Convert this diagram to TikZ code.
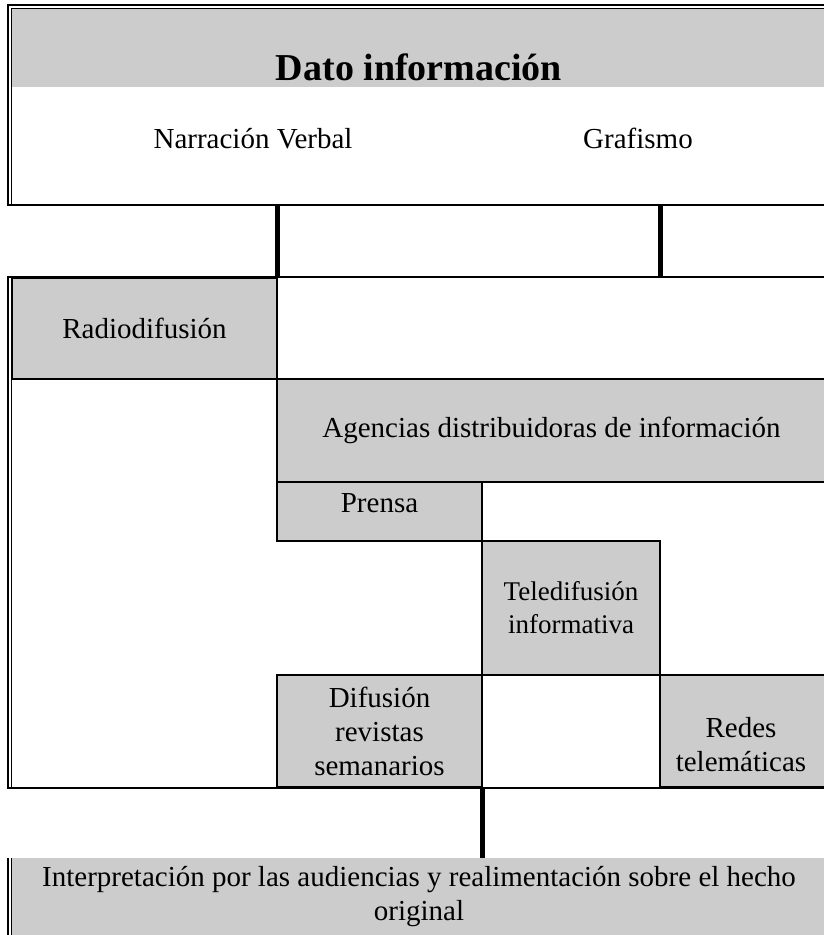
\documentclass[tikz,border=0pt]{standalone}
\usepackage{fontspec}
\setmainfont{Liberation Serif}
\usetikzlibrary{positioning}
\definecolor{cellgray}{HTML}{CCCCCC}

\begin{document}
\begin{tikzpicture}[x=1pt,y=-1pt]
\tikzstyle{cell}=[rectangle, draw, line width=1.6pt, fill=cellgray, anchor=north west, inner sep=0pt, outer sep=0pt, align=center, font=\fontsize{29}{34}\selectfont]
\tikzstyle{band}=[rectangle, fill=cellgray, anchor=north west, inner sep=0pt, outer sep=0pt, align=center]
\tikzstyle{txt}=[inner sep=0pt, align=center, font=\fontsize{29}{34}\selectfont]
\tikzstyle{outer-rule}=[line width=2pt]
\tikzstyle{inner-rule}=[line width=1pt]
\tikzstyle{link}=[line width=5pt]

\useasboundingbox (0,0) rectangle (824,935);

% top box
\node[style=band, minimum width=814, minimum height=78, text height=71pt, text depth=7pt, font=\bfseries\fontsize{38}{43}\selectfont] (dato) at (12,9) {Dato información};
\node[style=txt, anchor=base] (narr) at (253,148) {Narración Verbal};
\node[style=txt, anchor=base] (graf) at (638,148) {Grafismo};
\draw[style=outer-rule] (8,206) -- (8,5) -- (826,5);
\draw[style=inner-rule] (11.5,205) -- (11.5,8.5) -- (826,8.5);
\draw[style=outer-rule] (7,205) -- (826,205);
\coordinate (topbase) at (0,206);

% media
\node[style=cell, minimum width=265, minimum height=101] (radio) at (12,278) {Radiodifusión};
\node[style=cell, minimum width=549, minimum height=103] (agencias) at (277,379) {Agencias distribuidoras de información};
\node[style=cell, minimum width=205, minimum height=59, text height=30pt, text depth=29pt] (prensa) at (277,482) {Prensa};
\node[style=cell, minimum width=178, minimum height=134, font=\fontsize{27}{33}\selectfont] (tele) at (482,541) {Teledifusión\\informativa};
\node[style=cell, minimum width=205, minimum height=112] (difusion) at (277,675) {Difusión\\revistas\\semanarios};
\node[style=cell, minimum width=166, minimum height=112] (redes) at (660,675) {};
\node[style=txt, above=15pt of redes.south, xshift=-2pt] (redes-t) {Redes\\telemáticas};
\draw[style=outer-rule] (7,277) -- (826,277);
\draw[style=outer-rule] (8,276) -- (8,789);
\draw[style=inner-rule] (11.5,277) -- (11.5,788);
\draw[style=outer-rule] (7,788) -- (826,788);

% audiencias
\node[style=band, minimum width=814, minimum height=78, font=\fontsize{29}{34}\selectfont] (interp) at (12,858) {Interpretación por las audiencias y realimentación sobre el hecho\\original};
\draw[style=outer-rule] (8,858) -- (8,936);
\draw[style=inner-rule] (11.5,858) -- (11.5,936);

\draw[style=link] (radio.north east |- topbase) -- (radio.north east);
\draw[style=link] (tele.north east |- topbase) -- (tele.north east |- radio.north);
\draw[style=link] (difusion.south east) -- (difusion.south east |- interp.north);

\end{tikzpicture}
\end{document}
